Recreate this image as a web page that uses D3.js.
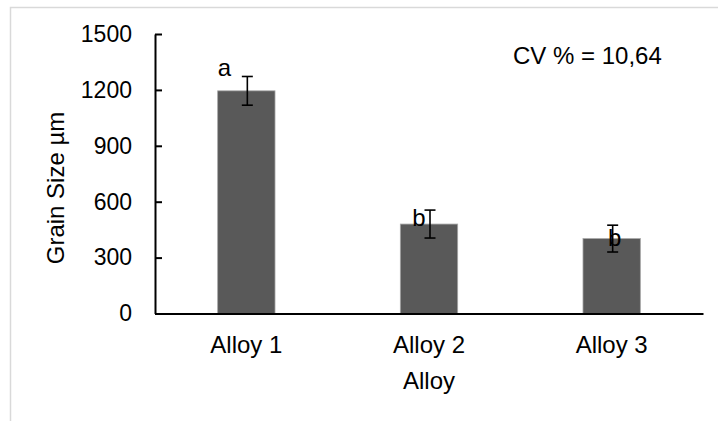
<!DOCTYPE html>
<html>
<head>
<meta charset="utf-8">
<script src="https://cdn.jsdelivr.net/npm/d3@7"></script>
<style>
  html, body { margin: 0; padding: 0; background: #fff; }
  svg { display: block; font-family: "Liberation Sans", Arial, sans-serif; }
</style>
</head>
<body>
<svg id="chart" width="718" height="421"></svg>
<script>
// ---- data ----
const categories = ["Alloy 1", "Alloy 2", "Alloy 3"];
const grainSize = [1195, 480, 402];
const errors = [77, 75, 72];
const letters = ["a", "b", "b"];
const yTicks = [0, 300, 600, 900, 1200, 1500];
const cvText = "CV % = 10,64";
const xTitle = "Alloy";
const yTitle = "Grain Size µm";

// ---- layout ----
const W = 718, H = 421;
const mLeft = 155, mRight = 703, mTop = 34, mBottom = 313.5;
const letterDx = [-22, -10, 3];   // hand-placed significance letters
const letterDy = [0, 2, 7];

const svg = d3.select("#chart");

// outer chart-area border
svg.append("rect")
  .attr("x", 10.5).attr("y", 7.5)
  .attr("width", W).attr("height", H)
  .attr("fill", "none").attr("stroke", "#d9d9d9").attr("stroke-width", 1.5);

const x = d3.scaleBand().domain(categories).range([mLeft, mRight])
  .paddingInner(0.686).paddingOuter(0.343);
const y = d3.scaleLinear().domain([0, 1500]).range([mBottom, mTop]);

// bars
svg.append("g").selectAll("rect").data(categories).join("rect")
  .attr("x", d => x(d))
  .attr("y", (d, i) => y(grainSize[i]))
  .attr("width", x.bandwidth())
  .attr("height", (d, i) => y(0) - y(grainSize[i]))
  .attr("fill", "#595959")
  .attr("stroke", "#a6a6a6").attr("stroke-width", 0.8);

// y axis
const yAxis = d3.axisLeft(y).tickValues(yTicks).tickFormat(d3.format("d"))
  .tickSize(-7).tickPadding(23).tickSizeOuter(0);
const gy = svg.append("g").attr("transform", `translate(${mLeft},0)`).call(yAxis);
gy.select(".domain").attr("stroke", "#000").attr("stroke-width", 2);
gy.selectAll(".tick line").attr("stroke", "#000").attr("stroke-width", 2);
gy.selectAll(".tick text").attr("font-size", 23).attr("fill", "#000")
  .attr("font-family", "Liberation Sans, Arial, sans-serif");

// x axis
const xAxis = d3.axisBottom(x).tickSize(0).tickPadding(22).tickSizeOuter(0);
const gx = svg.append("g").attr("transform", `translate(0,${mBottom})`).call(xAxis);
gx.select(".domain").attr("stroke", "#000").attr("stroke-width", 2.2);
gx.selectAll(".tick text").attr("font-size", 24).attr("fill", "#000")
  .attr("font-family", "Liberation Sans, Arial, sans-serif");

// error bars
const eg = svg.append("g").attr("stroke", "#000").attr("stroke-width", 1.6);
categories.forEach((c, i) => {
  const cx = x(c) + x.bandwidth() / 2 + 1;
  const y1 = y(grainSize[i] + errors[i]), y2 = y(grainSize[i] - errors[i]);
  eg.append("line").attr("x1", cx).attr("x2", cx).attr("y1", y1).attr("y2", y2);
  eg.append("line").attr("x1", cx - 5.5).attr("x2", cx + 5.5).attr("y1", y1).attr("y2", y1);
  eg.append("line").attr("x1", cx - 5.5).attr("x2", cx + 5.5).attr("y1", y2).attr("y2", y2);
});

// significance letters
svg.append("g").selectAll("text").data(letters).join("text")
  .attr("x", (d, i) => x(categories[i]) + x.bandwidth() / 2 + letterDx[i])
  .attr("y", (d, i) => (i === 0 ? y(grainSize[i] + errors[i]) : y(grainSize[i])) + letterDy[i])
  .attr("text-anchor", "middle")
  .attr("font-size", 24).attr("fill", "#000")
  .text(d => d);

// CV annotation
svg.append("text").attr("x", 513).attr("y", 64)
  .attr("font-size", 24).attr("fill", "#000").text(cvText);

// axis titles
svg.append("text").attr("x", (mLeft + mRight) / 2).attr("y", 389)
  .attr("text-anchor", "middle").attr("font-size", 24).attr("fill", "#000").text(xTitle);
svg.append("text").attr("transform", "translate(64,188) rotate(-90)")
  .attr("text-anchor", "middle").attr("font-size", 24).attr("fill", "#000").text(yTitle);
</script>
</body>
</html>
